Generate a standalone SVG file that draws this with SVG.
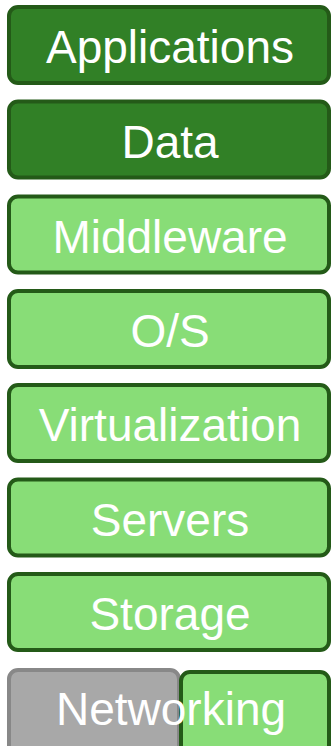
<svg xmlns="http://www.w3.org/2000/svg" width="332" height="746" viewBox="0 0 332 746">
<style>
.dk{fill:#318026;stroke:#245a18;stroke-width:4}
.lt{fill:#88dd77;stroke:#245a18;stroke-width:4}
.gr{fill:#a8a8a8;stroke:#888888;stroke-width:4}
text{font-family:"Liberation Sans",Arial,sans-serif;font-size:46px;fill:#ffffff;text-anchor:middle}
</style>
<rect width="332" height="746" fill="#ffffff"/>
<g id="applications"><rect class="dk" x="9" y="7" width="320" height="76" rx="9"/><text x="170" y="63">Applications</text></g>
<g id="data"><rect class="dk" x="9" y="101.5" width="320" height="76" rx="9"/><text x="170" y="157.5">Data</text></g>
<g id="middleware"><rect class="lt" x="9" y="196.5" width="320" height="76" rx="9"/><text x="170" y="252.5">Middleware</text></g>
<g id="os"><rect class="lt" x="9" y="291" width="320" height="76" rx="9"/><text x="170" y="347">O/S</text></g>
<g id="virtualization"><rect class="lt" x="9" y="385" width="320" height="76" rx="9"/><text x="170" y="441">Virtualization</text></g>
<g id="servers"><rect class="lt" x="9" y="479.5" width="320" height="76" rx="9"/><text x="170" y="535.5">Servers</text></g>
<g id="storage"><rect class="lt" x="9" y="574" width="320" height="76" rx="9"/><text x="170" y="630">Storage</text></g>
<g id="networking"><rect class="gr" x="9" y="670" width="170" height="90" rx="9"/><rect class="lt" x="181" y="672" width="148" height="90" rx="9"/><text x="171" y="725">Networking</text></g>
<g id="connectors"/>
</svg>
